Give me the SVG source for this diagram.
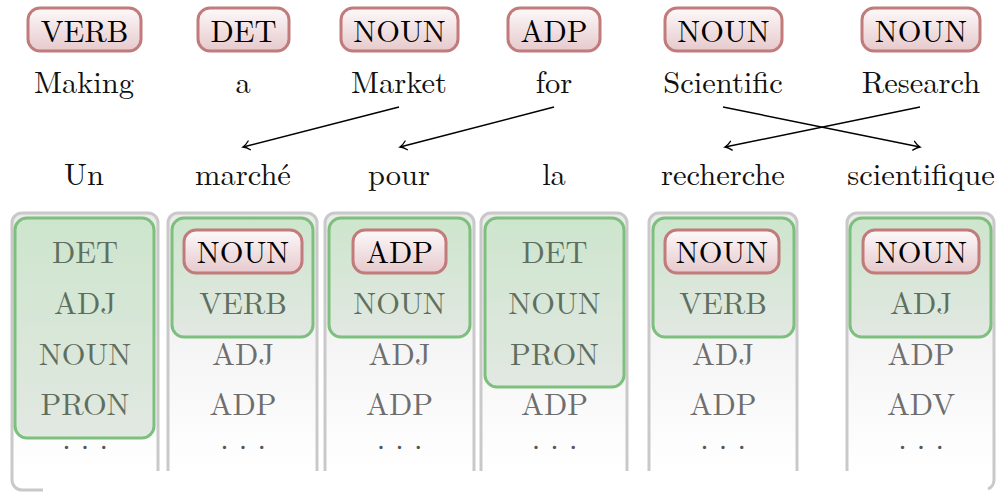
<svg xmlns="http://www.w3.org/2000/svg" width="998" height="493" viewBox="0 0 998 493">
<defs>
<linearGradient id="gTag" x1="0" y1="0" x2="0" y2="1"><stop offset="0" stop-color="#fdf9f9"/><stop offset="1" stop-color="#e6c9cd"/></linearGradient>
<linearGradient id="gGreen" x1="0" y1="0" x2="0" y2="1"><stop offset="0" stop-color="#cde5cd"/><stop offset="1" stop-color="#e2e8e2"/></linearGradient>
<linearGradient id="gCol" gradientUnits="userSpaceOnUse" x1="0" y1="213" x2="0" y2="471"><stop offset="0" stop-color="#eaeaea"/><stop offset="1" stop-color="#ffffff"/></linearGradient>
<marker id="arr" viewBox="-8 -6 10 12" refX="0" refY="0" markerWidth="10" markerHeight="12" markerUnits="userSpaceOnUse" orient="auto">
<path d="M-6.5,-4.5 C-3.5,-1.5 -1.5,-0.5 0,0 C-1.5,0.5 -3.5,1.5 -6.5,4.5" fill="none" stroke="#000" stroke-width="1.3" stroke-linecap="round"/>
</marker>
</defs>
<style>
text{text-anchor:middle}
.w{fill:#111}
.tag{fill:url(#gTag);stroke:#c27b7b;stroke-width:3}
.green{fill:url(#gGreen);stroke:#7dbf7d;stroke-width:3}
.colf{fill:url(#gCol);stroke:none}
.cols{fill:none;stroke:#c9c9c9;stroke-width:3}
.gt{fill:#5f6f5f}
.ot{fill:#6e6e6e}
.tt{fill:#000}
.dots{fill:#555}
.conn line{stroke:#000;stroke-width:1.5;marker-end:url(#arr)}
</style>
<rect width="998" height="493" fill="#fff"/>
<g font-family="'Latin Modern Roman', 'Liberation Serif', serif" font-size="30.5">

<g id="src-0"><rect class="tag" x="28" y="8" width="113" height="43" rx="12"/><text class="tt" x="84.5" y="42">VERB</text><text class="w" x="84" y="93">Making</text></g>
<g id="src-1"><rect class="tag" x="198" y="8" width="91" height="43" rx="12"/><text class="tt" x="243.5" y="42">DET</text><text class="w" x="243" y="93">a</text></g>
<g id="src-2"><rect class="tag" x="341" y="8" width="117" height="43" rx="12"/><text class="tt" x="399.5" y="42">NOUN</text><text class="w" x="399" y="93">Market</text></g>
<g id="src-3"><rect class="tag" x="508" y="8" width="92" height="43" rx="12"/><text class="tt" x="554" y="42">ADP</text><text class="w" x="554" y="93">for</text></g>
<g id="src-4"><rect class="tag" x="665" y="8" width="117" height="43" rx="12"/><text class="tt" x="723.5" y="42">NOUN</text><text class="w" x="723" y="93">Scientific</text></g>
<g id="src-5"><rect class="tag" x="862" y="8" width="118" height="43" rx="12"/><text class="tt" x="921" y="42">NOUN</text><text class="w" x="921" y="93">Research</text></g>

<g class="conn" id="connectors">
<line x1="399" y1="107" x2="243" y2="147"/>
<line x1="554" y1="107" x2="400" y2="147"/>
<line x1="723" y1="107" x2="920" y2="147"/>
<line x1="920" y1="107" x2="725" y2="147"/>
</g>

<g id="tgt-0">
<text class="w" x="84" y="185">Un</text>
<path class="colf" d="M12,471 V223 A10,10 0 0 1 22,213 H148 A10,10 0 0 1 158,223 V471 Z"/>
<path class="cols" d="M158,471 V223 A10,10 0 0 0 148,213 H22 A10,10 0 0 0 12,223 V480 A10,10 0 0 0 22,490 H43"/>
<rect class="green" x="15" y="218" width="139" height="220" rx="12"/>
<text class="gt" x="85" y="263">DET</text><text class="gt" x="85" y="314">ADJ</text><text class="gt" x="85" y="365">NOUN</text><text class="gt" x="85" y="415">PRON</text>
<text class="dots" x="85" y="449">. . .</text>
</g>
<g id="tgt-1">
<text class="w" x="243" y="185">marché</text>
<path class="colf" d="M168,471 V223 A10,10 0 0 1 178,213 H307 A10,10 0 0 1 317,223 V471 Z"/>
<path class="cols" d="M168,471 V223 A10,10 0 0 1 178,213 H307 A10,10 0 0 1 317,223 V471"/>
<rect class="green" x="172" y="218" width="141" height="119" rx="12"/>
<rect class="tag" x="184" y="230" width="118" height="43" rx="12"/>
<text class="tt" x="243" y="263">NOUN</text><text class="gt" x="243" y="314">VERB</text><text class="ot" x="243" y="365">ADJ</text><text class="ot" x="243" y="415">ADP</text>
<text class="dots" x="243" y="449">. . .</text>
</g>
<g id="tgt-2">
<text class="w" x="399" y="185">pour</text>
<path class="colf" d="M325,471 V223 A10,10 0 0 1 335,213 H464 A10,10 0 0 1 474,223 V471 Z"/>
<path class="cols" d="M325,471 V223 A10,10 0 0 1 335,213 H464 A10,10 0 0 1 474,223 V471"/>
<rect class="green" x="329" y="218" width="141" height="119" rx="12"/>
<rect class="tag" x="353" y="230" width="93" height="43" rx="12"/>
<text class="tt" x="399.5" y="263">ADP</text><text class="gt" x="399.5" y="314">NOUN</text><text class="ot" x="399.5" y="365">ADJ</text><text class="ot" x="399.5" y="415">ADP</text>
<text class="dots" x="399.5" y="449">. . .</text>
</g>
<g id="tgt-3">
<text class="w" x="554" y="185">la</text>
<path class="colf" d="M481,471 V223 A10,10 0 0 1 491,213 H617 A10,10 0 0 1 627,223 V471 Z"/>
<path class="cols" d="M481,471 V223 A10,10 0 0 1 491,213 H617 A10,10 0 0 1 627,223 V471"/>
<rect class="green" x="485" y="218" width="139" height="169" rx="12"/>
<text class="gt" x="554.5" y="263">DET</text><text class="gt" x="554.5" y="314">NOUN</text><text class="gt" x="554.5" y="365">PRON</text><text class="ot" x="554.5" y="415">ADP</text>
<text class="dots" x="554.5" y="449">. . .</text>
</g>
<g id="tgt-4">
<text class="w" x="723" y="185">recherche</text>
<path class="colf" d="M649,471 V223 A10,10 0 0 1 659,213 H787 A10,10 0 0 1 797,223 V471 Z"/>
<path class="cols" d="M649,471 V223 A10,10 0 0 1 659,213 H787 A10,10 0 0 1 797,223 V471"/>
<rect class="green" x="653" y="218" width="141" height="119" rx="12"/>
<rect class="tag" x="665" y="230" width="114" height="43" rx="12"/>
<text class="tt" x="722" y="263">NOUN</text><text class="gt" x="723" y="314">VERB</text><text class="ot" x="723" y="365">ADJ</text><text class="ot" x="723" y="415">ADP</text>
<text class="dots" x="723" y="449">. . .</text>
</g>
<g id="tgt-5">
<text class="w" x="921" y="185">scientifique</text>
<path class="colf" d="M847,471 V223 A10,10 0 0 1 857,213 H984 A10,10 0 0 1 994,223 V471 Z"/>
<path class="cols" d="M847,471 V223 A10,10 0 0 1 857,213 H984 A10,10 0 0 1 994,223 V480 A10,10 0 0 1 988,489"/>
<rect class="green" x="850" y="218" width="141" height="119" rx="12"/>
<rect class="tag" x="863" y="230" width="116" height="43" rx="12"/>
<text class="tt" x="921" y="263">NOUN</text><text class="gt" x="921" y="314">ADJ</text><text class="ot" x="921" y="365">ADP</text><text class="ot" x="921" y="415">ADV</text>
<text class="dots" x="921" y="449">. . .</text>
</g>
</g>
</svg>
